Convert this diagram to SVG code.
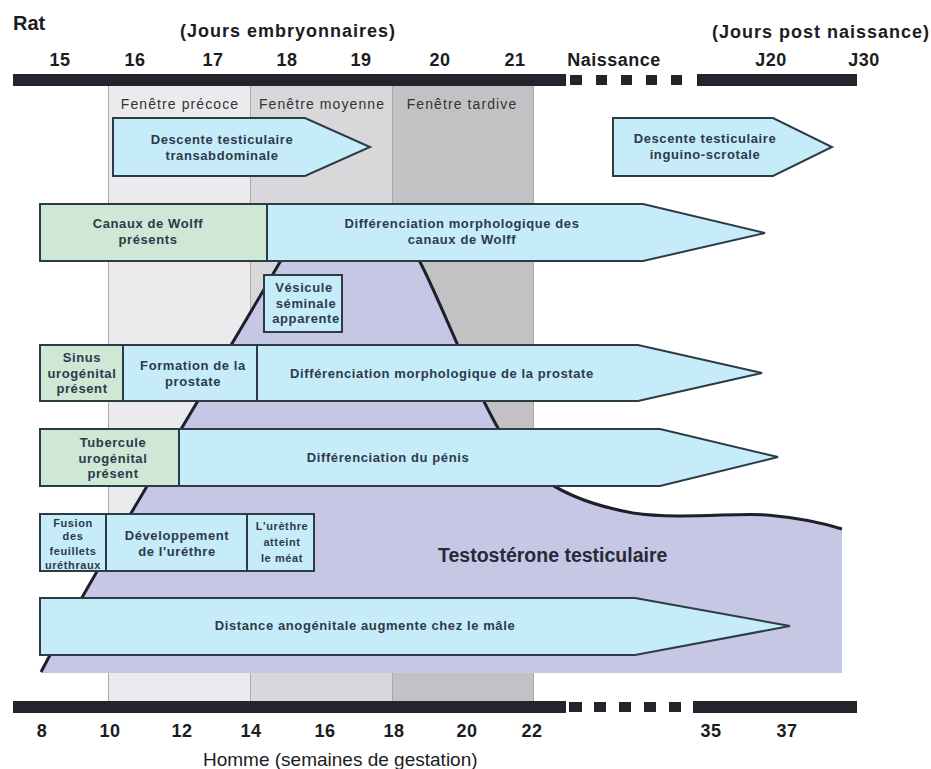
<svg xmlns="http://www.w3.org/2000/svg" width="931" height="769" viewBox="0 0 931 769">
<style>
.bar{fill:#23252c}
.hdr{font-family:"Liberation Sans",Arial,sans-serif;font-weight:bold;font-size:18px;fill:#1c1c1e;letter-spacing:1px}
.num{font-family:"Liberation Sans",Arial,sans-serif;font-weight:bold;font-size:18px;fill:#1c1c1e;text-anchor:middle;letter-spacing:0.5px}
.win{font-family:"Liberation Sans",Arial,sans-serif;font-size:14px;fill:#333;text-anchor:middle;letter-spacing:1.1px}
.blue{fill:#c6ecf9;stroke:#2d3b45;stroke-width:2}
.green{fill:#cfe7d5;stroke:#2d3b45;stroke-width:2}
.t{font-family:"Liberation Sans",Arial,sans-serif;font-weight:bold;font-size:13px;fill:#2c3a4a;text-anchor:middle;letter-spacing:0.6px}
.ts{font-family:"Liberation Sans",Arial,sans-serif;font-weight:bold;font-size:11px;fill:#2c3a4a;text-anchor:middle;letter-spacing:0.6px}
</style>

<!-- window columns -->
<g id="windows">
  <rect x="108" y="86" width="142" height="615" fill="#ebebed"/>
  <rect x="250" y="86" width="142" height="615" fill="#d8d8da"/>
  <rect x="392" y="86" width="141" height="615" fill="#c2c2c4"/>
  <g stroke="#a9a9ab" stroke-width="1">
    <line x1="108.5" y1="86" x2="108.5" y2="701"/>
    <line x1="250.5" y1="86" x2="250.5" y2="701"/>
    <line x1="392.5" y1="86" x2="392.5" y2="701"/>
    <line x1="533.5" y1="86" x2="533.5" y2="701"/>
  </g>
  <text class="win" x="180" y="109">Fenêtre précoce</text>
  <text class="win" x="322" y="109">Fenêtre moyenne</text>
  <text class="win" x="462" y="109">Fenêtre tardive</text>
</g>

<!-- testosterone region -->
<g id="testosterone">
  <path d="M41,672 C100,560 200,400 280,262 C310,205 390,200 420,262 C440,300 470,380 498,428 C520,470 560,500 633,513 C680,520 740,512 767,515 C800,518 820,522 842,529 L842,673 L41,673 Z" fill="#c5c7e5"/>
  <path d="M41,672 C100,560 200,400 280,262 C310,205 390,200 420,262 C440,300 470,380 498,428 C520,470 560,500 633,513 C680,520 740,512 767,515 C800,518 820,522 842,529" fill="none" stroke="#1e1f2b" stroke-width="3"/>
  <text x="438" y="562" font-family="Liberation Sans, Arial, sans-serif" font-weight="bold" font-size="19.5" fill="#262a38">Testostérone testiculaire</text>
</g>

<!-- axes -->
<g id="axis-rat">
  <rect class="bar" x="13" y="74" width="553" height="12"/>
  <rect class="bar" x="570" y="75" width="12" height="10"/>
  <rect class="bar" x="596" y="75" width="11" height="10"/>
  <rect class="bar" x="621" y="75" width="11" height="10"/>
  <rect class="bar" x="646" y="75" width="11" height="10"/>
  <rect class="bar" x="671" y="75" width="11" height="10"/>
  <rect class="bar" x="697" y="74" width="160" height="12"/>
  <text x="13" y="30" font-family="Liberation Sans, Arial, sans-serif" font-weight="bold" font-size="20" fill="#1c1c1e">Rat</text>
  <text class="hdr" x="288" y="37" text-anchor="middle">(Jours embryonnaires)</text>
  <text class="hdr" x="821" y="38" text-anchor="middle">(Jours post naissance)</text>
  <text class="num" x="60" y="66">15</text>
  <text class="num" x="135" y="66">16</text>
  <text class="num" x="213" y="66">17</text>
  <text class="num" x="287" y="66">18</text>
  <text class="num" x="361" y="66">19</text>
  <text class="num" x="440" y="66">20</text>
  <text class="num" x="515" y="66">21</text>
  <text class="num" x="614" y="66">Naissance</text>
  <text class="num" x="771" y="66">J20</text>
  <text class="num" x="864" y="66">J30</text>
</g>

<g id="axis-homme">
  <rect class="bar" x="13" y="701" width="553" height="12"/>
  <rect class="bar" x="569" y="702" width="13" height="10"/>
  <rect class="bar" x="594" y="702" width="12" height="10"/>
  <rect class="bar" x="619" y="702" width="12" height="10"/>
  <rect class="bar" x="644" y="702" width="12" height="10"/>
  <rect class="bar" x="669" y="702" width="12" height="10"/>
  <rect class="bar" x="693" y="701" width="164" height="12"/>
  <text class="num" x="42" y="737">8</text>
  <text class="num" x="110" y="737">10</text>
  <text class="num" x="182" y="737">12</text>
  <text class="num" x="251" y="737">14</text>
  <text class="num" x="325" y="737">16</text>
  <text class="num" x="394" y="737">18</text>
  <text class="num" x="467" y="737">20</text>
  <text class="num" x="532" y="737">22</text>
  <text class="num" x="711" y="737">35</text>
  <text class="num" x="787" y="737">37</text>
  <text x="203" y="766" font-family="Liberation Sans, Arial, sans-serif" font-size="19" fill="#1c1c1e">Homme (semaines de gestation)</text>
</g>

<!-- row 1 -->
<g id="descente-transabdominale">
  <path class="blue" d="M113,118 H305 L370,147 L305,176 H113 Z"/>
  <text class="t" x="222" y="144">Descente testiculaire</text>
  <text class="t" x="222" y="160">transabdominale</text>
</g>
<g id="descente-inguino-scrotale">
  <path class="blue" d="M613,118 H773 L832,147 L773,176 H613 Z"/>
  <text class="t" x="705" y="143">Descente testiculaire</text>
  <text class="t" x="705" y="159">inguino-scrotale</text>
</g>

<!-- row 2 -->
<g id="canaux-wolff">
  <rect class="green" x="40" y="204" width="227" height="57"/>
  <text class="t" x="148" y="228">Canaux de Wolff</text>
  <text class="t" x="148" y="244">présents</text>
</g>
<g id="diff-wolff">
  <path class="blue" d="M267,204 H643 L765,233 L643,261 H267 Z"/>
  <text class="t" x="462" y="228">Différenciation morphologique des</text>
  <text class="t" x="462" y="244">canaux de Wolff</text>
</g>

<!-- vesicule -->
<g id="vesicule">
  <rect class="blue" x="264" y="275" width="78" height="57"/>
  <text class="t" x="304" y="292">Vésicule</text>
  <text class="t" x="306" y="308">séminale</text>
  <text class="t" x="306" y="323">apparente</text>
</g>

<!-- row prostate -->
<g id="sinus">
  <rect class="green" x="40" y="345" width="83" height="56"/>
  <text class="t" x="82" y="362">Sinus</text>
  <text class="t" x="82" y="378">urogénital</text>
  <text class="t" x="82" y="393">présent</text>
</g>
<g id="formation-prostate">
  <rect class="blue" x="123" y="345" width="134" height="56"/>
  <text class="t" x="193" y="370">Formation de la</text>
  <text class="t" x="193" y="386">prostate</text>
</g>
<g id="diff-prostate">
  <path class="blue" d="M257,345 H638 L762,373 L638,401 H257 Z"/>
  <text class="t" x="442" y="378">Différenciation morphologique de la prostate</text>
</g>

<!-- row penis -->
<g id="tubercule">
  <rect class="green" x="40" y="429" width="139" height="57"/>
  <text class="t" x="113" y="447">Tubercule</text>
  <text class="t" x="113" y="463">urogénital</text>
  <text class="t" x="113" y="478">présent</text>
</g>
<g id="diff-penis">
  <path class="blue" d="M179,429 H660 L778,457 L660,486 H179 Z"/>
  <text class="t" x="388" y="462">Différenciation du pénis</text>
</g>

<!-- row urethre -->
<g id="fusion">
  <rect class="blue" x="40" y="514" width="66" height="57"/>
  <text class="ts" x="73" y="527">Fusion</text>
  <text class="ts" x="73" y="540">des</text>
  <text class="ts" x="73" y="555">feuillets</text>
  <text class="ts" x="73" y="569">uréthraux</text>
</g>
<g id="developpement-urethre">
  <rect class="blue" x="106" y="514" width="141" height="57"/>
  <text class="t" x="177" y="540">Développement</text>
  <text class="t" x="177" y="556">de l'uréthre</text>
</g>
<g id="urethre-meat">
  <rect class="blue" x="247" y="514" width="67" height="57"/>
  <text class="ts" x="282" y="530">L'urèthre</text>
  <text class="ts" x="282" y="546">atteint</text>
  <text class="ts" x="282" y="562">le méat</text>
</g>

<!-- distance anogenitale -->
<g id="distance-anogenitale">
  <path class="blue" d="M40,598 H635 L790,626 L635,655 H40 Z"/>
  <text class="t" x="365" y="630">Distance anogénitale augmente chez le mâle</text>
</g>
</svg>
